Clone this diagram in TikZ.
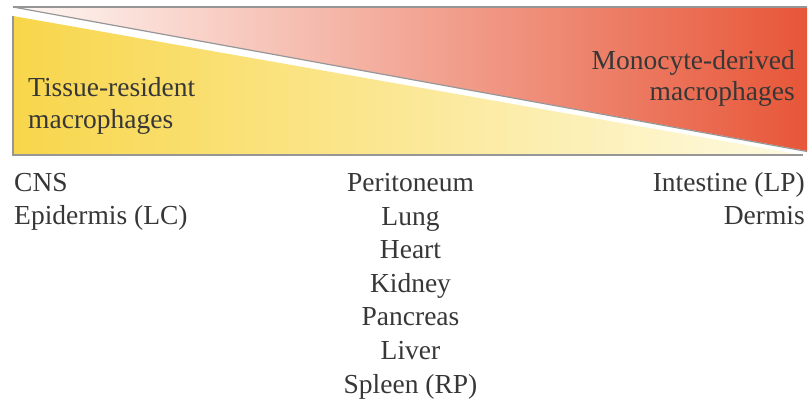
\documentclass[tikz,border=0pt]{standalone}
\usepackage{fontspec}
\setmainfont{Liberation Serif}
\definecolor{edgegray}{RGB}{150,150,150}
\definecolor{txtgray}{RGB}{55,55,55}
\definecolor{yelA}{RGB}{248,214,75}
\definecolor{yelB}{RGB}{253,240,172}
\definecolor{yelC}{RGB}{254,250,226}
\definecolor{redA}{RGB}{254,248,245}
\definecolor{redB}{RGB}{247,204,188}
\definecolor{redC}{RGB}{231,86,56}
\tikzset{
  lbl/.style={inner sep=0pt, text=txtgray, font=\fontsize{27.5}{33.5}\selectfont},
  edge/.style={draw=edgegray, line width=1.2pt},
}
\begin{document}
\begin{tikzpicture}[x=1pt,y=-1pt]
\useasboundingbox (0,0) rectangle (809,403);
% red (monocyte-derived) triangle
\shade[left color=redA, middle color=redB, right color=redC] (13,7) -- (807,7) -- (807,151) -- cycle;
\draw[edge] (13,7) -- (807,7);
\draw[edge] (13,7) -- (807,151.5);
% yellow (tissue-resident) triangle
\shade[left color=yelA, middle color=yelB, right color=yelC] (13,16) -- (803,155) -- (13,155) -- cycle;
\draw[draw=edgegray, line width=1.1pt] (13,16) -- (13,155) -- (803,155);
% labels in the triangles
\node[lbl, anchor=base west] (tr1) at (28,97) {Tissue-resident};
\node[lbl, anchor=base west] (tr2) at (28,128.5) {macrophages};
\node[lbl, anchor=base east] (md1) at (795,70) {Monocyte-derived};
\node[lbl, anchor=base east] (md2) at (795,101) {macrophages};
% tissues
\node[lbl, anchor=base west] (cns) at (14,191.5) {CNS};
\node[lbl, anchor=base west] (epi) at (14,224.5) {Epidermis (LC)};
\node[lbl, anchor=base] (per) at (410.5,192) {Peritoneum};
\node[lbl, anchor=base] (lun) at (410.5,225.5) {Lung};
\node[lbl, anchor=base] (hea) at (410.5,259) {Heart};
\node[lbl, anchor=base] (kid) at (410.5,292.5) {Kidney};
\node[lbl, anchor=base] (pan) at (410.5,326) {Pancreas};
\node[lbl, anchor=base] (liv) at (410.5,359.5) {Liver};
\node[lbl, anchor=base] (spl) at (410.5,393) {Spleen (RP)};
\node[lbl, anchor=base east] (int) at (805,192) {Intestine (LP)};
\node[lbl, anchor=base east] (der) at (805,225) {Dermis};
\end{tikzpicture}
\end{document}
